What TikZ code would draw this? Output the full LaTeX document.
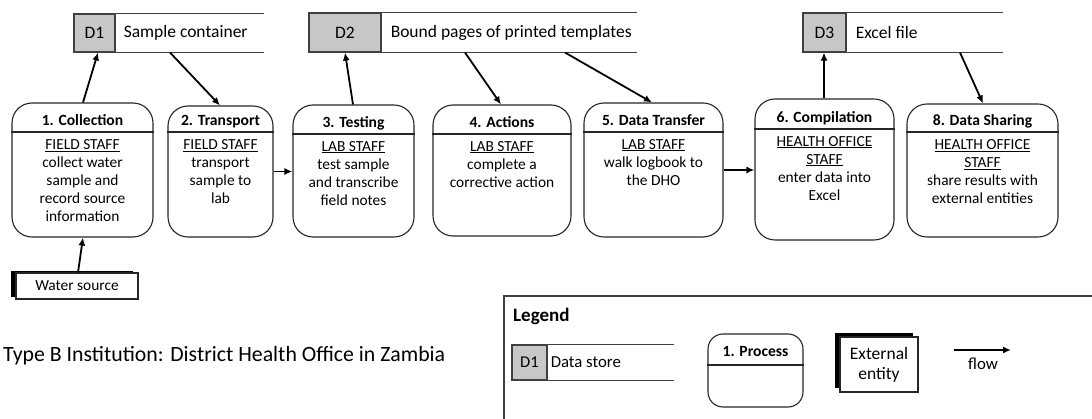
\documentclass[tikz,border=0pt]{standalone}
\usepackage{fontspec}
\setmainfont{Carlito}
\usetikzlibrary{arrows.meta,shadows,positioning}

\begin{document}
\begin{tikzpicture}[x=1pt,y=-1pt,
	proc/.style={draw=black!85, line width=1.1pt, rounded corners=20pt, fill=white},
	hline/.style={draw=black!85, line width=1.1pt},
	ptitle/.style={font=\fontsize{15.6}{18}\selectfont\bfseries, inner sep=0pt, anchor=base},
	pbody/.style={font=\fontsize{15.4}{18}\selectfont, align=center, inner sep=0pt, anchor=north},
	store/.style={draw=black!75, line width=1.1pt, fill=black!22, font=\fontsize{17.5}{20}\selectfont},
	sline/.style={draw=black!75, line width=1.1pt},
	stext/.style={font=\fontsize{17.5}{20}\selectfont, inner sep=0pt},
	entity/.style={draw=black!85, line width=1.1pt, fill=white, align=center, font=\fontsize{15.4}{18}\selectfont},
	ltext/.style={font=\fontsize{16.8}{19}\selectfont, inner sep=0pt},
	flow/.style={line width=1.8pt, ->},
	>={Latex[length=8pt,width=7pt]}]

	\useasboundingbox (0,0) rectangle (1092,419);

	% data stores
	\node[store, minimum width=41pt, minimum height=38pt] (d1) at (94.5,33) {D1};
	\draw[sline] (d1.north east) -- ++(148,0);
	\draw[sline] (d1.south east) -- ++(148,0);
	\node[stext, right=8pt of d1] (d1t) {Sample container};

	\node[store, minimum width=72pt, minimum height=39pt] (d2) at (345,32.5) {D2};
	\draw[sline] (d2.north east) -- ++(255,0);
	\draw[sline] (d2.south east) -- ++(255,0);
	\node[stext, right=9pt of d2] (d2t) {Bound pages of printed templates};

	\node[store, minimum width=43pt, minimum height=39pt] (d3) at (824.5,32.5) {D3};
	\draw[sline] (d3.north east) -- ++(156,0);
	\draw[sline] (d3.south east) -- ++(156,0);
	\node[stext, right=9pt of d3] (d3t) {Excel file};

	% processes
	\node[proc, minimum width=141pt, minimum height=134pt] (p1) at (82.5,170) {};
	\draw[hline] (p1.west |- 0,132) -- (p1.east |- 0,132);
	\node[ptitle] (p1t) at (p1.center |- 0,126) {1. Collection};
	\node[pbody] (p1b) at (p1.center |- 0,139.5) {\underline{FIELD STAFF}\\collect water\\sample and\\record source\\information};

	\node[proc, minimum width=105pt, minimum height=131pt] (p2) at (220.5,171.5) {};
	\draw[hline] (p2.west |- 0,132) -- (p2.east |- 0,132);
	\node[ptitle] (p2t) at (p2.center |- 0,126) {2. Transport};
	\node[pbody] (p2b) at (p2.center |- 0,139.5) {\underline{FIELD STAFF}\\transport\\sample to\\lab};

	\node[proc, minimum width=121pt, minimum height=132pt] (p3) at (353.5,171) {};
	\draw[hline] (p3.west |- 0,134) -- (p3.east |- 0,134);
	\node[ptitle] (p3t) at (p3.center |- 0,128) {3. Testing};
	\node[pbody] (p3b) at (p3.center |- 0,141) {\underline{LAB STAFF}\\test sample\\and transcribe\\field notes};

	\node[proc, minimum width=138pt, minimum height=131pt] (p4) at (502,170.5) {};
	\draw[hline] (p4.west |- 0,134) -- (p4.east |- 0,134);
	\node[ptitle] (p4t) at (p4.center |- 0,128) {4. Actions};
	\node[pbody] (p4b) at (p4.center |- 0,141) {\underline{LAB STAFF}\\complete a\\corrective action};

	\node[proc, minimum width=139pt, minimum height=134pt] (p5) at (653.5,170) {};
	\draw[hline] (p5.west |- 0,132) -- (p5.east |- 0,132);
	\node[ptitle] (p5t) at (p5.center |- 0,126) {5. Data Transfer};
	\node[pbody] (p5b) at (p5.center |- 0,139) {\underline{LAB STAFF}\\walk logbook to\\the DHO};

	\node[proc, minimum width=139pt, minimum height=141pt] (p6) at (824.5,169.5) {};
	\draw[hline] (p6.west |- 0,129) -- (p6.east |- 0,129);
	\node[ptitle] (p6t) at (p6.center |- 0,123) {6. Compilation};
	\node[pbody] (p6b) at (p6.center |- 0,136) {\underline{HEALTH OFFICE}\\\underline{STAFF}\\enter data into\\Excel};

	\node[proc, minimum width=151pt, minimum height=133pt] (p8) at (982.5,170.5) {};
	\draw[hline] (p8.west |- 0,132) -- (p8.east |- 0,132);
	\node[ptitle] (p8t) at (p8.center |- 0,126) {8. Data Sharing};
	\node[pbody] (p8b) at (p8.center |- 0,139.5) {\underline{HEALTH OFFICE}\\\underline{STAFF}\\share results with\\external entities};

	% external entity
	\node[entity, minimum width=122pt, minimum height=26pt, drop shadow={shadow xshift=-5pt, shadow yshift=2pt, fill=black, opacity=1}] (ws) at (77,286) {Water source};

	% flows
	\draw[flow] (83,0 |- p1.north) -- (98,0 |- d1.south);
	\draw[flow] (170,0 |- d1.south) -- (220,0 |- p2.north);
	\draw[flow] (p2.east) -- (p2.east -| p3.west);
	\draw[flow] (353,0 |- p3.north) -- (345,0 |- d2.south);
	\draw[flow] (465,0 |- d2.south) -- (501,0 |- p4.north);
	\draw[flow] (565,0 |- d2.south) -- (652,0 |- p5.north);
	\draw[flow] (p5.east) -- (p5.east -| p6.west);
	\draw[flow] (824,0 |- p6.north) -- (824,0 |- d3.south);
	\draw[flow] (960,0 |- d3.south) -- (983,0 |- p8.north);
	\draw[flow] (78,0 |- ws.north) -- (83,0 |- p1.south);

	\node[anchor=west, inner sep=0pt, font=\fontsize{21.8}{24}\selectfont] (cap) at (3,356) {Type B Institution: District Health Office in Zambia};

	% legend
	\draw[draw=black!75, line width=1.1pt] (504,296) rectangle (1110,440);
	\node[anchor=west, inner sep=0pt, font=\fontsize{19}{22}\selectfont\bfseries] (lg) at (513,316) {Legend};

	\node[store, minimum width=35pt, minimum height=35pt, font=\fontsize{16.5}{19}\selectfont] (ld) at (529.5,362.5) {D1};
	\draw[sline] (ld.north east) -- ++(126,0);
	\draw[sline] (ld.south east) -- ++(126,0);
	\node[ltext, right=3pt of ld] (ldt) {Data store};

	\node[proc, rounded corners=15pt, minimum width=95pt, minimum height=73pt] (lp) at (755.5,370.5) {};
	\draw[hline] (lp.west |- 0,365) -- (lp.east |- 0,365);
	\node[ptitle] (lpt) at (lp.center |- 0,356) {1. Process};

	\node[entity, minimum width=78pt, minimum height=55pt, font=\fontsize{17.5}{20}\selectfont, drop shadow={shadow xshift=-5pt, shadow yshift=4pt, fill=black, opacity=1}] (le) at (879,364.5) {External\\entity};

	\coordinate (f0) at (954,350);
	\coordinate (f1) at (1011,350);
	\draw[flow] (f0) -- (f1);
	\node[ltext] (lf) at (983,364) {flow};

\end{tikzpicture}
\end{document}
